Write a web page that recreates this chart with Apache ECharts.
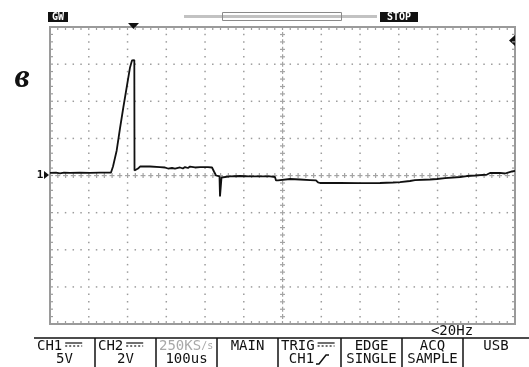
<!DOCTYPE html>
<html>
<head>
<meta charset="utf-8">
<script src="https://cdn.jsdelivr.net/npm/echarts@6/dist/echarts.min.js"></script>
<style>
  html, body { margin: 0; padding: 0; background: #fff; }
  #chart { width: 529px; height: 367px; }
</style>
</head>
<body>
<div id="chart"></div>
<script>
// Captured CH1 trace: time in microseconds (100 us/div), voltage in volts (5 V/div)
const timeUs = [
  0, 15.5, 25.8, 36.1, 51.6, 77.4, 103.2, 129.0, 157.4, 162.6, 172.1, 180.6, 189.2,
  198.7, 206.5, 211.6, 215.5, 217.6, 218.1, 221.9, 227.1, 232.3, 258.1, 283.9, 296.8,
  304.5, 314.8, 322.6, 335.5, 343.0, 348.4, 356.1, 361.3, 374.2, 387.1, 407.7, 418.1,
  423.2, 428.4, 433.5, 437.4, 438.7, 441.3, 442.6, 446.5, 464.5, 490.3, 516.1, 541.9,
  567.7, 580.6, 583.2, 588.4, 591.0, 619.4, 645.2, 671.0, 686.5, 691.6, 696.8, 748.4,
  800.0, 851.6, 885.2, 903.2, 929.0, 941.9, 980.6, 998.7, 1019.4, 1058.1, 1076.1,
  1096.8, 1127.7, 1135.5, 1161.3, 1174.2, 1181.9, 1192.3, 1200
];
const ch1Volts = [
  0.34, 0.40, 0.27, 0.40, 0.34, 0.40, 0.34, 0.40, 0.40, 1.21, 3.37, 6.33, 9.16,
  12.12, 14.55, 15.49, 15.62, 15.55, 0.67, 0.61, 0.94, 1.21, 1.21, 1.14, 1.08,
  0.94, 1.01, 0.94, 1.08, 0.94, 1.14, 1.01, 1.21, 1.08, 1.14, 1.14, 1.08,
  0.54, 0.00, -0.13, -0.13, -2.83, -2.83, -0.27, -0.07, -0.13, -0.07, -0.13, -0.13,
  -0.13, -0.20, -0.67, -0.67, -0.47, -0.47, -0.54, -0.61, -0.67, -0.94, -1.01, -1.01,
  -1.04, -1.01, -0.94, -0.88, -0.74, -0.61, -0.54, -0.47, -0.34, -0.20, -0.07,
  0.00, 0.13, 0.34, 0.34, 0.27, 0.40, 0.54, 0.61
];

// Screen scale: 12 horizontal and 8 vertical divisions, 5 minor steps each
const timePerDiv = 100;
const voltsPerDiv = 5;
const xDivs = 12;
const yDivs = 8;
const minorSteps = 5;
const xMin = 0;
const yMin = -yDivs / 2 * voltsPerDiv;

// Bottom status bar cells: [first line, second line]
const statusCells = [
  ['CH1', '5V'], ['CH2', '2V'], ['250KS', '100us'], ['MAIN', ''],
  ['TRIG', 'CH1'], ['EDGE', 'SINGLE'], ['ACQ', 'SAMPLE'], ['USB', '']
];

const chart = echarts.init(document.getElementById('chart'), null, { renderer: 'canvas' });

const gridGray = '#9c9c9c';
const mono = '"DejaVu Sans Mono", monospace';

// Graticule: dotted division lines, cross marks on the centre axes, border ticks
function renderGraticule(params, api) {
  const children = [];
  const nx = xDivs * minorSteps;
  const ny = yDivs * minorSteps;
  const cx = nx / 2, cy = ny / 2;
  for (let i = 0; i <= nx; i++) {
    for (let j = 0; j <= ny; j++) {
      const t = xMin + i * timePerDiv / minorSteps;
      const v = yMin + j * voltsPerDiv / minorSteps;
      const p = api.coord([t, v]);
      const onV = i % minorSteps === 0;
      const onH = j % minorSteps === 0;
      const border = i === 0 || i === nx || j === 0 || j === ny;
      if (border) continue;
      if (i === cx || j === cy) {
        children.push({ type: 'rect', shape: { x: p[0] - 2.5, y: p[1] - 0.5, width: 5, height: 1.2 }, style: { fill: '#a4a4a4' } });
        children.push({ type: 'rect', shape: { x: p[0] - 0.5, y: p[1] - 2.5, width: 1.2, height: 5 }, style: { fill: '#a4a4a4' } });
        continue;
      }
      if (onV || onH) {
        children.push({ type: 'rect', shape: { x: p[0] - 0.7, y: p[1] - 0.7, width: 1.5, height: 1.5 }, style: { fill: gridGray } });
      }
    }
  }
  // inward ticks along the four edges
  for (let i = 1; i < nx; i++) {
    const t = xMin + i * timePerDiv / minorSteps;
    const top = api.coord([t, -yMin]);
    const bot = api.coord([t, yMin]);
    children.push({ type: 'line', shape: { x1: top[0], y1: top[1], x2: top[0], y2: top[1] + 3 }, style: { stroke: gridGray, lineWidth: 1.2 } });
    children.push({ type: 'line', shape: { x1: bot[0], y1: bot[1], x2: bot[0], y2: bot[1] - 3 }, style: { stroke: gridGray, lineWidth: 1.2 } });
  }
  for (let j = 1; j < ny; j++) {
    const v = yMin + j * voltsPerDiv / minorSteps;
    const l = api.coord([xMin, v]);
    const r = api.coord([xMin + xDivs * timePerDiv, v]);
    children.push({ type: 'line', shape: { x1: l[0], y1: l[1], x2: l[0] + 3, y2: l[1] }, style: { stroke: gridGray, lineWidth: 1.2 } });
    children.push({ type: 'line', shape: { x1: r[0], y1: r[1], x2: r[0] - 3, y2: r[1] }, style: { stroke: gridGray, lineWidth: 1.2 } });
  }
  return { type: 'group', children: children };
}

// DC coupling glyph: solid bar over a dashed bar
function dcSymbol(x, y) {
  return [
    { type: 'line', shape: { x1: x, y1: y, x2: x + 17, y2: y }, style: { stroke: '#111', lineWidth: 1.2 } },
    { type: 'line', shape: { x1: x, y1: y + 3, x2: x + 17, y2: y + 3 }, style: { stroke: '#111', lineWidth: 1.2, lineDash: [2, 2] } }
  ];
}

const footerTop = 338;
const cellEdges = [34, 95, 156, 217, 278, 341, 402, 463, 529];
const graphics = [];

// header badges and the memory bar
graphics.push({ type: 'rect', shape: { x: 48, y: 12, width: 20, height: 10 }, style: { fill: '#111' } });
graphics.push({ type: 'text', x: 58, y: 17, style: { text: 'GW', fill: '#fff', font: 'bold 10px ' + mono, align: 'center', verticalAlign: 'middle' } });
graphics.push({ type: 'rect', shape: { x: 380, y: 12, width: 38, height: 10 }, style: { fill: '#111' } });
graphics.push({ type: 'text', x: 399, y: 17, style: { text: 'STOP', fill: '#fff', font: 'bold 10px ' + mono, align: 'center', verticalAlign: 'middle' } });
graphics.push({ type: 'line', shape: { x1: 184, y1: 16.5, x2: 377, y2: 16.5 }, style: { stroke: '#c2c2c2', lineWidth: 3 } });
graphics.push({ type: 'rect', shape: { x: 222.5, y: 12.5, width: 119, height: 8 }, style: { fill: 'none', stroke: '#8a8a8a', lineWidth: 1 } });

// trigger position and trigger level markers
graphics.push({ type: 'polygon', shape: { points: [[128, 23], [139, 23], [133.5, 29]] }, style: { fill: '#111' } });
graphics.push({ type: 'polygon', shape: { points: [[515, 35], [515, 46], [509, 40.5]] }, style: { fill: '#111' } });

// channel 1 ground reference
graphics.push({ type: 'text', x: 40, y: 175, style: { text: '1', fill: '#111', font: 'bold 11px ' + mono, align: 'center', verticalAlign: 'middle' } });
graphics.push({ type: 'polygon', shape: { points: [[44, 171], [44, 179], [49, 175]] }, style: { fill: '#111' } });

// panel letter
graphics.push({ type: 'text', x: 22, y: 78, style: { text: 'в', fill: '#111', font: 'italic bold 34px "Liberation Serif", serif', align: 'center', verticalAlign: 'middle' } });

// frequency counter
graphics.push({ type: 'text', x: 452, y: 331, style: { text: '<20Hz', fill: '#111', font: '14px ' + mono, align: 'center', verticalAlign: 'middle' } });

// status bar frame
graphics.push({ type: 'line', shape: { x1: 34, y1: footerTop, x2: 529, y2: footerTop }, style: { stroke: '#111', lineWidth: 1.5 } });
for (let k = 1; k < cellEdges.length - 1; k++) {
  graphics.push({ type: 'line', shape: { x1: cellEdges[k], y1: footerTop, x2: cellEdges[k], y2: 367 }, style: { stroke: '#111', lineWidth: 1.5 } });
}
const line1Y = 346, line2Y = 359;
statusCells.forEach(function (cell, k) {
  const mid = (cellEdges[k] + cellEdges[k + 1]) / 2;
  const left = cellEdges[k] + 3;
  if (k === 0 || k === 1 || k === 4) {
    graphics.push({ type: 'text', x: left, y: line1Y, style: { text: cell[0], fill: '#111', font: '14px ' + mono, align: 'left', verticalAlign: 'middle' } });
    const w = cell[0].length * 8.4;
    dcSymbol(left + w + 3, line1Y - 3).forEach(function (g) { graphics.push(g); });
  } else if (k === 2) {
    graphics.push({ type: 'text', x: left, y: line1Y, style: { rich: { a: { fill: '#a8a8a8', font: '14px ' + mono }, b: { fill: '#a8a8a8', font: '10px ' + mono } }, text: '{a|' + cell[0] + '}{b|/s}', verticalAlign: 'middle' } });
  } else {
    graphics.push({ type: 'text', x: mid, y: line1Y, style: { text: cell[0], fill: '#111', font: '14px ' + mono, align: 'center', verticalAlign: 'middle' } });
  }
  if (cell[1]) {
    const x2 = k === 4 ? mid - 8 : mid;
    graphics.push({ type: 'text', x: x2, y: line2Y, style: { text: cell[1], fill: '#111', font: '14px ' + mono, align: 'center', verticalAlign: 'middle' } });
  }
});
// rising-edge glyph next to the trigger source
graphics.push({ type: 'polyline', shape: { points: [[316, 364], [319, 364], [326, 355], [329, 355]] }, style: { stroke: '#111', lineWidth: 1.5, fill: 'none' } });

chart.setOption({
  animation: false,
  backgroundColor: '#fff',
  grid: { left: 50, right: 14, top: 27, bottom: 43, show: true, borderColor: '#9a9a9a', borderWidth: 2, backgroundColor: 'transparent' },
  xAxis: {
    type: 'value', min: xMin, max: xMin + xDivs * timePerDiv, interval: timePerDiv,
    axisLine: { show: false }, axisTick: { show: false }, axisLabel: { show: false }, splitLine: { show: false }
  },
  yAxis: {
    type: 'value', min: yMin, max: -yMin, interval: voltsPerDiv,
    axisLine: { show: false }, axisTick: { show: false }, axisLabel: { show: false }, splitLine: { show: false }
  },
  series: [
    {
      type: 'custom', renderItem: renderGraticule, data: [[0, 0]], silent: true, z: 1, clip: false
    },
    {
      type: 'line', data: timeUs.map(function (t, i) { return [t, ch1Volts[i]]; }),
      showSymbol: false, z: 5, lineStyle: { color: '#111', width: 1.8 }
    }
  ],
  graphic: graphics
});
</script>
</body>
</html>
